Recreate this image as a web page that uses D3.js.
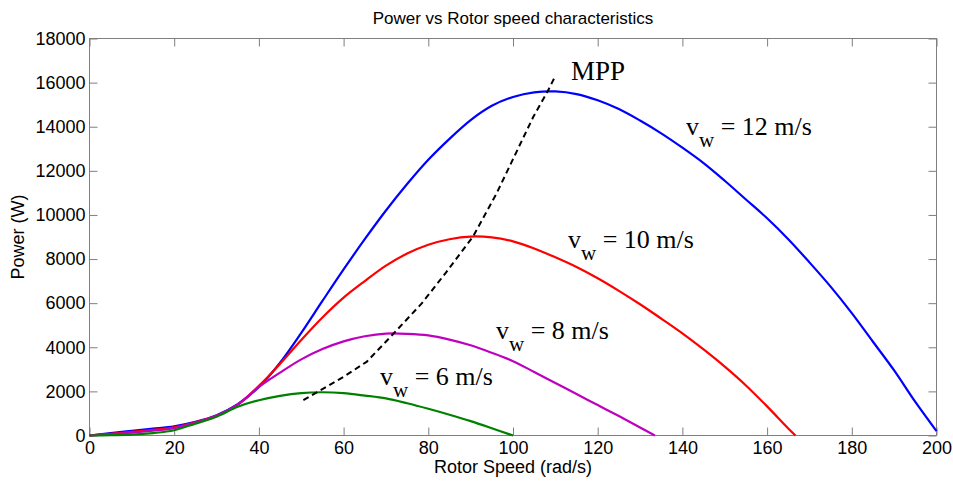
<!DOCTYPE html>
<html>
<head>
<meta charset="utf-8">
<script src="https://cdn.jsdelivr.net/npm/d3@7"></script>
<style>
html, body { margin: 0; padding: 0; background: #fff; }
svg { display: block; }
</style>
</head>
<body>
<svg id="chart" width="953" height="481"></svg>
<script>
// ---- data ----
const xTicks = [0, 20, 40, 60, 80, 100, 120, 140, 160, 180, 200];
const yTicks = [0, 2000, 4000, 6000, 8000, 10000, 12000, 14000, 16000, 18000];

// rotor speed (rad/s), power (W)
const v12 = [[0,0],[5,110],[10,210],[15,310],[20,420],[25,620],[30,920],[35,1420],[40,2200],[45,3300],[50,4650],[55,6100],[60,7530],[65,8900],[70,10200],[75,11400],[80,12500],[85,13450],[90,14300],[95,14950],[100,15350],[105,15560],[110,15600],[115,15480],[120,15200],[125,14800],[130,14280],[135,13700],[140,13050],[145,12350],[150,11550],[155,10700],[160,9850],[165,8900],[170,7850],[175,6750],[180,5550],[185,4250],[190,2950],[195,1520],[200,200]];
const v10 = [[0,0],[5,80],[10,165],[15,255],[20,365],[25,600],[30,900],[35,1400],[40,2250],[45,3250],[50,4330],[55,5350],[60,6250],[65,7000],[70,7700],[75,8250],[80,8650],[85,8900],[90,9020],[95,8980],[100,8800],[105,8480],[110,8080],[115,7640],[120,7130],[125,6560],[130,5950],[135,5300],[140,4630],[145,3900],[150,3120],[155,2270],[160,1320],[165,320],[166.7,0]];
const v8 = [[0,0],[5,60],[10,130],[15,220],[20,330],[25,580],[30,900],[35,1400],[40,2200],[45,2850],[50,3450],[55,3920],[60,4270],[65,4500],[70,4620],[75,4610],[80,4540],[85,4350],[90,4090],[95,3750],[100,3370],[105,2880],[110,2380],[115,1880],[120,1380],[125,880],[130,360],[133.5,0]];
const v6 = [[0,0],[5,15],[10,40],[15,110],[20,240],[25,540],[30,850],[35,1300],[40,1600],[45,1800],[50,1925],[55,1960],[60,1920],[65,1810],[70,1680],[75,1460],[80,1210],[85,940],[90,650],[95,330],[100,0]];
const mpp = [[50.5,1600],[60,2660],[65.5,3350],[71.7,4600],[78.5,6000],[84.3,7420],[90.6,9030],[96.1,10970],[100.8,12850],[104.8,14450],[108.3,15650],[110,16300]];

const seriesNames = ["12", "10", "8", "6"];
const seriesColors = ["#0000ff", "#ff0000", "#bf00bf", "#008000"];
const seriesData = [v12, v10, v8, v6];

// ---- layout ----
const svg = d3.select("#chart");
const L = 89.5, R = 936.5, T = 38.5, B = 435.5;
const x = d3.scaleLinear().domain([0, 200]).range([L, R]);
const y = d3.scaleLinear().domain([0, 18000]).range([B, T]);
const frameColor = "#7f7f7f";
const sans = "'Liberation Sans', Arial, Helvetica, sans-serif";
const serif = "'Liberation Serif', 'Times New Roman', Times, serif";

svg.append("rect").attr("x", 0).attr("y", 0).attr("width", 953).attr("height", 481).attr("fill", "#fff");

// axes with inward ticks
function styleAxis(g) {
  g.select(".domain").remove();
  g.selectAll(".tick line").attr("stroke", frameColor);
  g.selectAll(".tick text").attr("fill", "#000").style("font-family", sans).style("font-size", "18px");
}
svg.append("g").attr("transform", `translate(0,${B})`)
  .call(d3.axisBottom(x).tickValues(xTicks).tickSizeInner(-8).tickSizeOuter(0).tickPadding(6).tickFormat(d3.format("d")))
  .call(styleAxis);
svg.append("g").attr("transform", `translate(0,${T})`)
  .call(d3.axisTop(x).tickValues(xTicks).tickSizeInner(-8).tickSizeOuter(0).tickFormat(""))
  .call(styleAxis);
svg.append("g").attr("transform", `translate(${L},0)`)
  .call(d3.axisLeft(y).tickValues(yTicks).tickSizeInner(-8).tickSizeOuter(0).tickPadding(4).tickFormat(d3.format("d")))
  .call(styleAxis);
svg.append("g").attr("transform", `translate(${R},0)`)
  .call(d3.axisRight(y).tickValues(yTicks).tickSizeInner(-8).tickSizeOuter(0).tickFormat(""))
  .call(styleAxis);

// frame
svg.append("rect").attr("x", L).attr("y", T).attr("width", R - L).attr("height", B - T)
  .attr("fill", "none").attr("stroke", frameColor).attr("stroke-width", 1);

// curves
const line = d3.line().x(d => x(d[0])).y(d => y(d[1])).curve(d3.curveCatmullRom.alpha(0.5));
seriesData.forEach((data, i) => {
  svg.append("path").datum(data).attr("d", line)
    .attr("fill", "none").attr("stroke", seriesColors[i]).attr("stroke-width", 2.2)
    .attr("stroke-linejoin", "round");
});

// MPP
const lineLin = d3.line().x(d => x(d[0])).y(d => y(d[1]));
svg.append("path").datum(mpp).attr("d", lineLin)
  .attr("fill", "none").attr("stroke", "#000").attr("stroke-width", 2)
  .attr("stroke-dasharray", "6,4");

// annotations
svg.append("text").attr("x", 571).attr("y", 80).text("MPP")
  .style("font-family", serif).style("font-size", "27px").attr("fill", "#000");

const labels = [
  { name: seriesNames[0], x: 686, y: 135 },
  { name: seriesNames[1], x: 568, y: 248 },
  { name: seriesNames[2], x: 496, y: 339 },
  { name: seriesNames[3], x: 380, y: 385 }
];
labels.forEach(l => {
  const t = svg.append("text").attr("x", l.x).attr("y", l.y)
    .style("font-family", serif).style("font-size", "26px").attr("fill", "#000");
  t.append("tspan").text("v");
  t.append("tspan").attr("dy", 12).style("font-size", "21px").text("w");
  t.append("tspan").attr("dy", -12).text(" = " + l.name + " m/s");
});

// titles
svg.append("text").attr("x", (L + R) / 2).attr("y", 24).attr("text-anchor", "middle")
  .style("font-family", sans).style("font-size", "17px").attr("fill", "#000")
  .text("Power vs Rotor speed characteristics");
svg.append("text").attr("x", (L + R) / 2).attr("y", 473).attr("text-anchor", "middle")
  .style("font-family", sans).style("font-size", "18px").attr("fill", "#000")
  .text("Rotor Speed (rad/s)");
svg.append("text").attr("transform", `translate(24,${(T + B) / 2}) rotate(-90)`).attr("text-anchor", "middle")
  .style("font-family", sans).style("font-size", "18px").attr("fill", "#000")
  .text("Power (W)");
</script>
</body>
</html>
